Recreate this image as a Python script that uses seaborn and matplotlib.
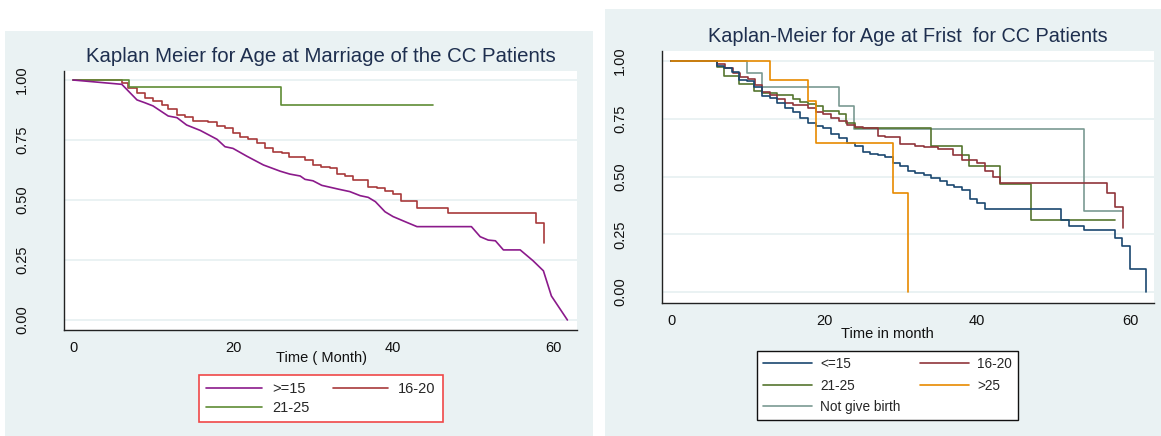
import numpy as np
import pandas as pd
import matplotlib
matplotlib.use("Agg")
import matplotlib.pyplot as plt
from matplotlib.patches import Rectangle
from matplotlib.lines import Line2D
import seaborn as sns

sns.set_style("white")
plt.rcParams['font.family'] = ['Liberation Sans', 'DejaVu Sans']

# ---------------- data: left panel (age at marriage) ----------------
left_title = "Kaplan Meier for Age at Marriage of the CC Patients"
left_xlabel = "Time ( Month)"
left_groups = [">=15", "16-20", "21-25"]

m15_t = [0, 6.1, 8, 9, 10, 11.9, 13, 14.2, 15.9, 18, 19, 20, 21.7, 23.8, 25.9, 27.1, 28.4,
         29, 30, 31.1, 33.2, 34.6, 35.9, 36.9, 37.8, 39, 40, 41.7, 43, 49.8, 50.9, 51.9,
         52.8, 53.8, 55.9, 57.5, 58.8, 59.8, 61.8]
m15_s = [1.0, 0.982, 0.917, 0.905, 0.892, 0.85, 0.843, 0.8125, 0.79, 0.753, 0.722, 0.715,
         0.683, 0.646, 0.62, 0.608, 0.60, 0.586, 0.58, 0.561, 0.545, 0.535, 0.518, 0.511,
         0.493, 0.451, 0.431, 0.407, 0.389, 0.389, 0.347, 0.333, 0.33, 0.292, 0.292, 0.247,
         0.205, 0.10, 0.0]

m1620_t = [0, 6.1, 6.9, 8.0, 9.0, 10.0, 11.1, 11.9, 13.0, 14.0, 15.0, 16.9, 18.0, 19.0, 20.0,
           20.9, 21.9, 23.0, 24.0, 25.0, 26.1, 27.0, 29.0, 30.0, 31.0, 32.1, 33.0, 34.0, 35.0,
           36.9, 38.0, 39.0, 40.0, 41.0, 43.0, 46.9, 57.9, 58.9]
m1620_s = [1.0, 0.986, 0.965, 0.944, 0.924, 0.914, 0.896, 0.879, 0.854, 0.845, 0.831, 0.824,
           0.810, 0.799, 0.781, 0.764, 0.753, 0.736, 0.715, 0.701, 0.694, 0.678, 0.667, 0.646,
           0.639, 0.632, 0.608, 0.601, 0.583, 0.556, 0.549, 0.5375, 0.525, 0.497, 0.465,
           0.444, 0.403, 0.32]

m2125_t = [0, 7, 26, 45]
m2125_s = [1.0, 0.971, 0.897, 0.897]

# ---------------- data: right panel (age at first birth) ----------------
right_title = "Kaplan-Meier for Age at Frist  for CC Patients"
right_xlabel = "Time in month"
right_groups = ["<=15", "16-20", "21-25", ">25", "Not give birth"]

b15_t = [0, 6.0, 6.9, 8.0, 8.9, 9.9, 10.9, 11.9, 12.9, 13.8, 14.9, 15.9, 16.9, 17.9, 19.0,
         19.9, 20.9, 22.0, 23.0, 24.1, 25.1, 26.0, 27.1, 28.0, 29.0, 29.9, 31.0, 31.9, 33.0,
         34.0, 35.1, 36.0, 37.0, 38.0, 39.0, 40.0, 41.0, 51.0, 52.0, 54.0, 58.0, 58.9, 60.0,
         62.0]
b15_s = [1.0, 0.978, 0.968, 0.953, 0.918, 0.913, 0.886, 0.848, 0.838, 0.817, 0.795, 0.778,
         0.755, 0.733, 0.719, 0.709, 0.683, 0.665, 0.646, 0.632, 0.607, 0.598, 0.592, 0.586,
         0.557, 0.547, 0.525, 0.517, 0.507, 0.495, 0.48, 0.463, 0.456, 0.442, 0.401, 0.384,
         0.359, 0.312, 0.286, 0.268, 0.235, 0.2, 0.1, 0.0]

b1620_t = [0, 6.0, 7.0, 8.1, 9.0, 10.1, 11.0, 11.9, 12.9, 13.9, 14.9, 16.0, 17.9, 19.0, 19.9,
           20.9, 22.0, 23.0, 24.1, 25.1, 27.0, 28.0, 29.9, 31.9, 33.0, 34.9, 36.9, 38.0, 40.0,
           41.0, 42.0, 43.0, 57.0, 58.0, 59.0]
b1620_s = [1.0, 0.986, 0.968, 0.949, 0.932, 0.922, 0.896, 0.867, 0.853, 0.835, 0.817, 0.81,
           0.798, 0.781, 0.771, 0.752, 0.742, 0.723, 0.716, 0.708, 0.675, 0.67, 0.641, 0.633,
           0.629, 0.618, 0.593, 0.571, 0.557, 0.525, 0.499, 0.47, 0.43, 0.369, 0.278]

b2125_t = [0, 6.0, 6.9, 8.9, 10.9, 11.9, 13.9, 15.9, 16.9, 17.9, 19.0, 19.9, 21.9, 22.9, 24.0,
           33.9, 38.0, 38.9, 43.0, 47.0, 58.0]
b2125_s = [1.0, 0.975, 0.935, 0.90, 0.871, 0.862, 0.853, 0.835, 0.824, 0.812, 0.806, 0.784,
           0.769, 0.73, 0.709, 0.633, 0.593, 0.547, 0.468, 0.312, 0.312]

b25_t = [0, 12.9, 17.9, 19.0, 29.0, 31.0]
b25_s = [1.0, 0.916, 0.827, 0.644, 0.43, 0.0]

bnone_t = [0, 9.9, 11.9, 21.9, 23.9, 53.9, 58.9]
bnone_s = [1.0, 0.949, 0.886, 0.805, 0.704, 0.35, 0.35]

y_ticks = [0.0, 0.25, 0.5, 0.75, 1.0]
y_ticklabels = ["0.00", "0.25", "0.50", "0.75", "1.00"]
x_ticks = [0, 20, 40, 60]

left_colors = {">=15": "#8b1a8b", "16-20": "#a8393b", "21-25": "#5f8c35"}
right_colors = {"<=15": "#1a476f", "16-20": "#90353b", "21-25": "#55752f",
                ">25": "#e88a00", "Not give birth": "#7a9a92"}

BG = "#EAF2F3"
W, H = 1161, 436
fig = plt.figure(figsize=(W / 100, H / 100), dpi=100)
fig.patch.set_facecolor("white")

# panel backgrounds
fig.patches.append(Rectangle((5 / W, 0), (593 - 5) / W, (436 - 31) / H, transform=fig.transFigure,
                             facecolor=BG, edgecolor="none", zorder=-10))
fig.patches.append(Rectangle((605 / W, 0), (1161 - 605) / W, (436 - 9) / H, transform=fig.transFigure,
                             facecolor=BG, edgecolor="none", zorder=-10))


def px_axes(x0, y0, x1, y1):
    return fig.add_axes([x0 / W, 1 - y1 / H, (x1 - x0) / W, (y1 - y0) / H])


axL = px_axes(64, 71, 577, 330)
axR = px_axes(662, 51, 1154, 303)


def long_df(series):
    frames = []
    for name, t, s in series:
        frames.append(pd.DataFrame({"time": t, "surv": s, "group": name}))
    return pd.concat(frames, ignore_index=True)


# left panel
dfL_step = long_df([("16-20", m1620_t, m1620_s), ("21-25", m2125_t, m2125_s)])
dfL_line = long_df([(">=15", m15_t, m15_s)])
sns.lineplot(data=dfL_step, x="time", y="surv", hue="group", palette=left_colors,
             estimator=None, sort=False, drawstyle="steps-post", lw=1.2, legend=False, ax=axL)
sns.lineplot(data=dfL_line, x="time", y="surv", hue="group", palette=left_colors,
             estimator=None, sort=False, lw=1.2, legend=False, ax=axL)

# right panel
dfR = long_df([("<=15", b15_t, b15_s), ("16-20", b1620_t, b1620_s), ("21-25", b2125_t, b2125_s),
               (">25", b25_t, b25_s), ("Not give birth", bnone_t, bnone_s)])
sns.lineplot(data=dfR, x="time", y="surv", hue="group", palette=right_colors,
             hue_order=["Not give birth", "21-25", "16-20", "<=15", ">25"],
             estimator=None, sort=False, drawstyle="steps-post", lw=1.2, legend=False, ax=axR)

# axes styling
for ax, (x0, x1), (y0, y1) in [(axL, (-1.125, 63.0), (-0.0417, 1.0375)),
                               (axR, (-1.18, 63.1), (-0.0476, 1.0433))]:
    ax.set_facecolor("white")
    ax.set_xlim(x0, x1)
    ax.set_ylim(y0, y1)
    ax.set_yticks(y_ticks)
    ax.set_yticklabels(y_ticklabels)
    ax.set_xticks(x_ticks)
    ax.set_ylabel("")
    ax.grid(axis="y", color=BG, lw=1.4)
    ax.grid(axis="x", visible=False)
    for side in ["top", "right"]:
        ax.spines[side].set_visible(False)
    for side in ["left", "bottom"]:
        ax.spines[side].set_color("#222222")
        ax.spines[side].set_linewidth(1.0)
    ax.tick_params(axis="both", direction="out", length=4, width=0.9, color="#222222",
                   labelsize=10.5, labelcolor="#111111")
    ax.tick_params(axis="y", labelrotation=90, pad=21)
    ax.tick_params(axis="x", pad=4)
    for lab in ax.get_yticklabels():
        lab.set_va("center")

axL.set_xlabel(left_xlabel, fontsize=10.5, color="#111111")
axL.xaxis.set_label_coords((321 - 64) / 513, (330 - 358) / 259)
axL.xaxis.label.set_va("center")
axR.set_xlabel(right_xlabel, fontsize=10.5, color="#111111")
axR.xaxis.set_label_coords((887 - 662) / 492, (303 - 334) / 252)
axR.xaxis.label.set_va("center")

# titles
fig.text(321 / W, 1 - 56 / H, left_title, ha="center", va="center", fontsize=14.7, color="#1e2f4f")
fig.text(908 / W, 1 - 36 / H, right_title, ha="center", va="center", fontsize=14.3, color="#1e2f4f")

# legends
def handle(c):
    return Line2D([0], [0], color=c, lw=1.2)

orderL = [">=15", "21-25", "16-20"]
legL = fig.legend([handle(left_colors[g]) for g in orderL], orderL, ncol=2,
                  loc="upper left", bbox_to_anchor=(199 / W, 1 - 375 / H), borderaxespad=0,
                  fontsize=10.5, frameon=True, fancybox=False, borderpad=0.5, framealpha=1,
                  handlelength=3.8, handletextpad=0.7, columnspacing=1.6, labelspacing=0.3)
legL.get_frame().set_edgecolor("#f04848")
legL.get_frame().set_linewidth(1.2)
legL.get_frame().set_facecolor("white")

orderR = ["<=15", "21-25", "Not give birth", "16-20", ">25"]
legR = fig.legend([handle(right_colors[g]) for g in orderR], orderR, ncol=2,
                  loc="upper left", bbox_to_anchor=(757 / W, 1 - 351 / H), borderaxespad=0,
                  fontsize=9.8, frameon=True, fancybox=False, borderpad=0.45, framealpha=1,
                  handlelength=3.6, handletextpad=0.6, columnspacing=1.4, labelspacing=0.55)
legR.get_frame().set_edgecolor("#111111")
legR.get_frame().set_linewidth(1.0)
legR.get_frame().set_facecolor("white")

fig.savefig("out.png", dpi=100, facecolor="white")
